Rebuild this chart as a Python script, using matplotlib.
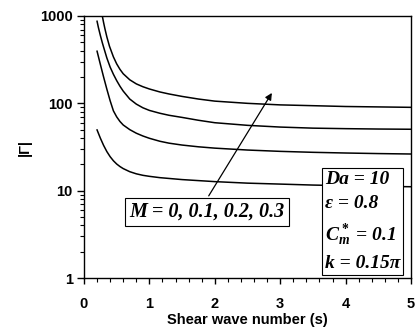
import numpy as np
import matplotlib
matplotlib.use("Agg")
import matplotlib.pyplot as plt
from matplotlib.ticker import FixedLocator, NullFormatter

# ---- data ----
x_top = [0.28, 0.30, 0.32, 0.35, 0.39, 0.45, 0.5, 0.55, 0.6, 0.7, 0.8, 0.9, 1.0,
         1.16, 1.3, 1.5, 1.75, 2.0, 2.5, 3.0, 3.5, 4.0, 4.5, 5.0]
y_top = [1000, 840, 715, 575, 450, 340, 283, 245, 218, 186, 167, 155, 146,
         135, 128, 120, 112, 106, 100, 96, 94, 92, 91, 90]

x_2 = [0.2, 0.22, 0.25, 0.28, 0.3, 0.35, 0.4, 0.45, 0.5, 0.55, 0.6, 0.7, 0.8, 0.9,
       1.0, 1.16, 1.3, 1.5, 1.75, 2.0, 2.5, 3.0, 3.5, 4.0, 4.5, 5.0]
y_2 = [870, 740, 600, 495, 440, 330, 260, 215, 182, 157, 138, 112, 98, 89,
       83, 77, 73, 69, 64, 60, 56, 53.5, 52, 51.3, 50.8, 50.5]

x_3 = [0.2, 0.25, 0.3, 0.35, 0.4, 0.45, 0.5, 0.55, 0.6, 0.7, 0.8, 0.9, 1.0,
       1.16, 1.3, 1.5, 1.75, 2.0, 2.5, 3.0, 3.5, 4.0, 4.5, 5.0]
y_3 = [395, 280, 200, 145, 107, 82, 70, 62, 56.5, 50, 45.5, 42.3, 39.8,
       36.8, 35, 33.3, 31.8, 30.7, 29.2, 28.2, 27.5, 27, 26.6, 26.3]

x_bot = [0.2, 0.25, 0.3, 0.35, 0.4, 0.45, 0.5, 0.55, 0.6, 0.7, 0.8, 0.9, 1.0,
         1.16, 1.5, 2.0, 2.5, 3.0, 3.5, 4.0, 4.5, 5.0]
y_bot = [49.6, 40, 33, 28, 24.5, 22, 20.2, 18.9, 17.9, 16.5, 15.6, 15.0, 14.6,
         14.1, 13.4, 12.7, 12.2, 11.9, 11.6, 11.4, 11.2, 11.1]

curves = [(x_top, y_top), (x_2, y_2), (x_3, y_3), (x_bot, y_bot)]

x_ticks = [0, 1, 2, 3, 4, 5]
y_ticks = [1, 10, 100, 1000]
y_ticklabels = ["1", "10", "100", "1000"]

m_label = "M = 0, 0.1, 0.2, 0.3"
param_lines = ["Da = 10", "\u03b5 = 0.8", "$C_m^*$ = 0.1", "k = 0.15\u03c0"]

# ---- style ----
plt.rcParams["font.family"] = ["Liberation Sans", "DejaVu Sans"]
plt.rcParams["mathtext.fontset"] = "custom"
plt.rcParams["mathtext.it"] = "Liberation Serif:italic:bold"
plt.rcParams["mathtext.rm"] = "Liberation Serif:bold"

fig = plt.figure(figsize=(4.17, 3.31), dpi=100)
ax = fig.add_axes([0.2014, 0.160, 0.7842, 0.7917])

for xs, ys in curves:
    ax.plot(xs, ys, color="black", lw=1.1)

ax.set_yscale("log")
ax.set_xlim(0, 5)
ax.set_ylim(1, 1000)

ax.set_xticks(x_ticks)
ax.set_xticklabels([str(t) for t in x_ticks], fontsize=10.5, fontweight="bold")
ax.xaxis.set_minor_locator(FixedLocator(np.arange(0, 5.01, 0.2)))
ax.set_yticks(y_ticks)
ax.set_yticklabels(y_ticklabels, fontsize=10.5, fontweight="bold")
ax.yaxis.set_minor_formatter(NullFormatter())

ax.tick_params(axis="both", which="major", direction="out", length=4, width=1, pad=10)
ax.tick_params(axis="both", which="minor", direction="out", length=3, width=0.8)
ax.tick_params(axis="y", which="major", length=5, pad=3)
for sp in ax.spines.values():
    sp.set_linewidth(1)

ax.set_xlabel("Shear wave number (s)", fontsize=10.5, fontweight="bold", labelpad=1)
ax.set_ylabel("|\u0393|", fontsize=10.5, fontweight="bold", labelpad=6)

# M annotation with arrow
ax.annotate("", xy=(2.895, 140), xytext=(1.885, 8.2),
            arrowprops=dict(arrowstyle="-|>", color="black", lw=0.9, mutation_scale=10))
ax.text(1.885, 5.7, m_label, fontsize=14.5, fontweight="bold", fontstyle="italic",
        family="Liberation Serif", ha="center", va="center",
        bbox=dict(boxstyle="square,pad=0.22", fc="white", ec="black", lw=0.8))

# parameter box
ax.text(3.68, 1.16, "\n".join(param_lines), fontsize=14, fontweight="bold",
        fontstyle="italic", family="Liberation Serif", ha="left", va="bottom",
        linespacing=1.55,
        bbox=dict(boxstyle="square,pad=0.15", fc="white", ec="black", lw=0.8))

fig.savefig("out.png", dpi=100)
